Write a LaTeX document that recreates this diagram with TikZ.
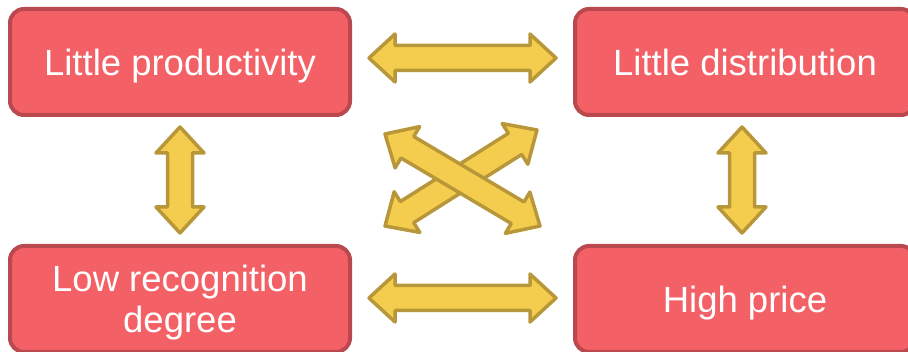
\documentclass[tikz,border=0pt]{standalone}
\usepackage{fontspec}
\setmainfont{Liberation Sans}
\usetikzlibrary{calc}
\definecolor{boxfill}{HTML}{F36166}
\definecolor{boxline}{HTML}{B9494E}
\definecolor{arrfill}{HTML}{F5CD4E}
\definecolor{arrline}{HTML}{B8973A}
\newcommand{\dblarrow}[2]{%
  \draw[arrowshape] (#1)
    -- ($(#1)!26pt!(#2)!24pt!90:(#2)$)
    -- ($(#1)!26pt!(#2)!12.5pt!90:(#2)$)
    -- ($(#2)!26pt!(#1)!12.5pt!-90:(#1)$)
    -- ($(#2)!26pt!(#1)!24pt!-90:(#1)$)
    -- (#2)
    -- ($(#2)!26pt!(#1)!24pt!90:(#1)$)
    -- ($(#2)!26pt!(#1)!12.5pt!90:(#1)$)
    -- ($(#1)!26pt!(#2)!12.5pt!-90:(#2)$)
    -- ($(#1)!26pt!(#2)!24pt!-90:(#2)$)
    -- cycle;}
\begin{document}
\begin{tikzpicture}[x=1pt,y=-1pt,
  box/.style={draw=boxline, fill=boxfill, line width=4pt, rounded corners=14pt,
    minimum width=340pt, minimum height=106pt, text=white, align=center,
    font=\fontsize{36.5}{41}\selectfont, inner sep=0pt, text depth=0pt},
  arrowshape/.style={draw=arrline, fill=arrfill, line width=3.5pt, line join=round}]
\useasboundingbox (0,0) rectangle (908,352);
\node[box] (LP) at (180,62) {Little productivity};
\node[box] (LD) at (745,62) {Little distribution};
\node[box] (LR) at (180,299) {Low recognition\\degree};
\node[box] (HP) at (745,299) {High price};
\coordinate (t1) at ($(LP.east)+(17,-4)$);
\coordinate (t2) at ($(LD.west)+(-17,-4)$);
\coordinate (b1) at ($(LR.east)+(17,-1)$);
\coordinate (b2) at ($(HP.west)+(-17,-1)$);
\coordinate (l1) at ($(LP.south)+(0,10)$);
\coordinate (l2) at ($(LR.north)+(0,-11)$);
\coordinate (r1) at ($(LD.south)+(-3,10)$);
\coordinate (r2) at ($(HP.north)+(-3,-11)$);
\coordinate (xa1) at (385,134);
\coordinate (xa2) at (540,226);
\coordinate (xb1) at (385,226);
\coordinate (xb2) at (537,130);
\dblarrow{t1}{t2}
\dblarrow{b1}{b2}
\dblarrow{l1}{l2}
\dblarrow{r1}{r2}
\dblarrow{xb1}{xb2}
\dblarrow{xa1}{xa2}
\end{tikzpicture}
\end{document}
